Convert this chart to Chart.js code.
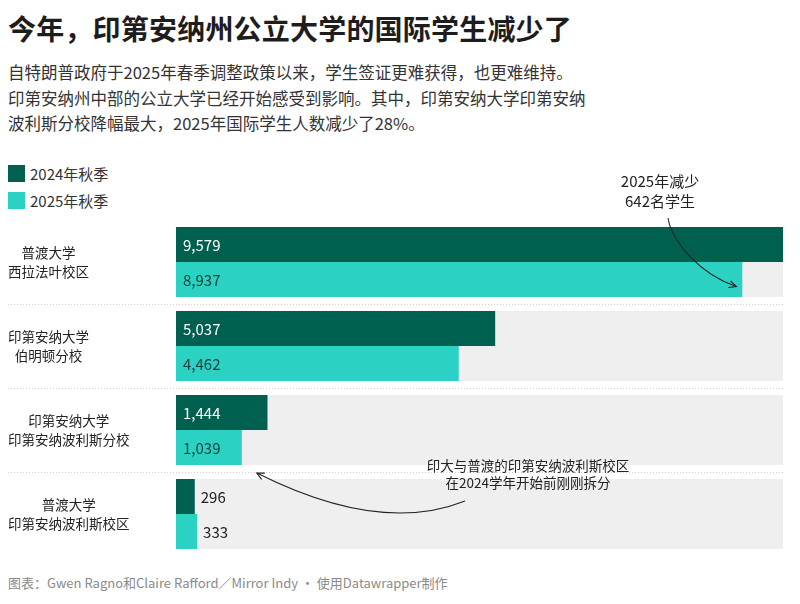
<!DOCTYPE html>
<html>
<head>
<meta charset="utf-8">
<script src="https://cdn.jsdelivr.net/npm/chart.js@4"></script>
<style>
  body { margin: 0; background: #fff; font-family: "Noto Sans CJK SC", "Noto Sans", sans-serif; color: #222; }
  #wrap { position: relative; width: 800px; height: 604px; overflow: hidden; }
  #title { position: absolute; left: 8px; top: 8px; font-size: 28px; font-weight: 700; color: #1d1d1d; letter-spacing: 0.2px; }
  #subtitle { position: absolute; left: 8px; top: 60px; font-size: 16.5px; line-height: 25.5px; color: #333; }
  .legend { position: absolute; left: 8px; font-size: 15px; color: #333; display: flex; align-items: center; }
  .legend span.sw { display: inline-block; width: 17px; height: 17px; margin-right: 5px; }
  #footer { position: absolute; left: 8px; top: 573px; font-size: 13px; color: #8a8a8a; }
  #chartBox { position: absolute; left: 0; top: 150px; width: 800px; height: 420px; }
</style>
</head>
<body>
<div id="wrap">
  <div id="title">今年，印第安纳州公立大学的国际学生减少了</div>
  <div id="subtitle">自特朗普政府于2025年春季调整政策以来，学生签证更难获得，也更难维持。<br>印第安纳州中部的公立大学已经开始感受到影响。其中，印第安纳大学印第安纳<br>波利斯分校降幅最大，2025年国际学生人数减少了28%。</div>
  <div class="legend" style="top:163px"><span class="sw" style="background:#00604f"></span>2024年秋季</div>
  <div class="legend" style="top:190px"><span class="sw" style="background:#2bd1c2"></span>2025年秋季</div>
  <div id="chartBox"><canvas id="chart" width="800" height="420"></canvas></div>
  <div id="footer">图表：Gwen Ragno和Claire Rafford／Mirror Indy · 使用Datawrapper制作</div>
</div>
<script>
// campuses (two-line labels)
const campuses = [
    ['普渡大学', '西拉法叶校区'],
    ['印第安纳大学', '伯明顿分校'],
    ['印第安纳大学', '印第安纳波利斯分校'],
    ['普渡大学', '印第安纳波利斯校区']
];
const fall2024 = [9579, 5037, 1444, 296];
const fall2025 = [8937, 4462, 1039, 333];
const seriesNames = ['2024年秋季', '2025年秋季'];

const maxValue = Math.max(...fall2024, ...fall2025);
const darkColor = '#00604f';
const tealColor = '#2bd1c2';
const font = '"Noto Sans CJK SC", "Noto Sans", sans-serif';

// campus names drawn left of the bars, centered inside their own block
const labelPlugin = {
    id: 'campusLabels',
    afterDraw(chart) {
        const ctx = chart.ctx;
        const yScale = chart.scales.y;
        ctx.save();
        ctx.font = '13.5px ' + font;
        ctx.fillStyle = '#222';
        ctx.textAlign = 'center';
        ctx.textBaseline = 'middle';
        campuses.forEach((lines, i) => {
            const y = yScale.getPixelForValue(i);
            const w = Math.max(...lines.map(l => ctx.measureText(l).width));
            const cx = 8 + w / 2;
            lines.forEach((l, j) => {
                ctx.fillText(l, cx, y + (j - (lines.length - 1) / 2) * 19);
            });
        });
        ctx.restore();
    }
};

// dotted separators between groups
const separatorPlugin = {
    id: 'separators',
    beforeDatasetsDraw(chart) {
        const ctx = chart.ctx;
        const yScale = chart.scales.y;
        ctx.save();
        ctx.strokeStyle = '#cfcfcf';
        ctx.lineWidth = 1;
        ctx.setLineDash([1, 2]);
        for (let i = 0; i < campuses.length - 1; i++) {
            const y = Math.round((yScale.getPixelForValue(i) + yScale.getPixelForValue(i + 1)) / 2) + 0.5;
            ctx.beginPath();
            ctx.moveTo(8, y);
            ctx.lineTo(chart.chartArea.right, y);
            ctx.stroke();
        }
        ctx.restore();
    }
};

// value labels inside / next to the bars
const valuePlugin = {
    id: 'values',
    afterDatasetsDraw(chart) {
        const ctx = chart.ctx;
        ctx.save();
        ctx.font = '15px ' + font;
        ctx.textBaseline = 'middle';
        ctx.textAlign = 'left';
        [0, 1].forEach(di => {
            const meta = chart.getDatasetMeta(di);
            meta.data.forEach((bar, i) => {
                const v = chart.data.datasets[di].data[i];
                const txt = v.toLocaleString('en-US');
                const len = bar.x - bar.base;
                if (len > ctx.measureText(txt).width + 14) {
                    ctx.fillStyle = di === 0 ? '#ffffff' : '#173f39';
                    ctx.fillText(txt, bar.base + 7, bar.y + 1);
                } else {
                    ctx.fillStyle = '#222';
                    ctx.fillText(txt, bar.x + 6, bar.y + 1);
                }
            });
        });
        ctx.restore();
    }
};

function arrowHead(ctx, fromX, fromY, x, y) {
    const a = Math.atan2(y - fromY, x - fromX);
    const s = 8;
    ctx.beginPath();
    ctx.moveTo(x - s * Math.cos(a - 0.45), y - s * Math.sin(a - 0.45));
    ctx.lineTo(x, y);
    ctx.lineTo(x - s * Math.cos(a + 0.45), y - s * Math.sin(a + 0.45));
    ctx.stroke();
}

// notes with curved arrows
const notePlugin = {
    id: 'notes',
    afterDraw(chart) {
        const ctx = chart.ctx;
        const x = chart.scales.x;
        const m1 = chart.getDatasetMeta(1);
        ctx.save();
        ctx.fillStyle = '#222';
        ctx.textAlign = 'center';
        ctx.textBaseline = 'middle';

        // first note: Purdue West Lafayette drop
        ctx.font = '15px ' + font;
        ctx.fillText('2025年减少', 660, 31);
        ctx.fillText('642名学生', 660, 51);
        const e1x = x.getPixelForValue(fall2025[0]) - 6;
        const e1y = m1.data[0].y + 7;
        ctx.strokeStyle = '#222';
        ctx.lineWidth = 1.1;
        ctx.beginPath();
        ctx.moveTo(668, 68);
        ctx.bezierCurveTo(672, 92, 700, 124, e1x, e1y);
        ctx.stroke();
        arrowHead(ctx, 700, 124, e1x, e1y);

        // second note: Indianapolis split
        const b2 = m1.data[2];
        ctx.font = '13.5px ' + font;
        ctx.fillText('印大与普渡的印第安纳波利斯校区', 528, 316);
        ctx.fillText('在2024学年开始前刚刚拆分', 528, 333);
        const e2x = b2.x + 15;
        const e2y = b2.y + b2.height / 2 + 8;
        ctx.beginPath();
        ctx.moveTo(465, 351);
        ctx.quadraticCurveTo(380, 385, e2x, e2y);
        ctx.stroke();
        arrowHead(ctx, 380, 385, e2x, e2y);
        ctx.restore();
    }
};

new Chart(document.getElementById('chart'), {
    type: 'bar',
    data: {
        labels: campuses,
        datasets: [
            {
                label: seriesNames[0],
                data: fall2024,
                backgroundColor: darkColor,
                categoryPercentage: 0.833,
                barPercentage: 1,
                order: 0
            },
            {
                label: seriesNames[1],
                data: fall2025,
                backgroundColor: tealColor,
                categoryPercentage: 0.833,
                barPercentage: 1,
                order: 0
            },
            {
                label: 'bg',
                data: campuses.map(() => maxValue),
                backgroundColor: '#efefef',
                grouped: false,
                categoryPercentage: 0.833,
                barPercentage: 1,
                order: 5
            }
        ]
    },
    options: {
        indexAxis: 'y',
        responsive: false,
        animation: false,
        layout: { padding: { left: 176, right: 17, top: 70, bottom: 14 } },
        scales: {
            x: { display: false, min: 0, max: maxValue },
            y: { display: false }
        },
        plugins: {
            legend: { display: false },
            tooltip: { enabled: false }
        }
    },
    plugins: [separatorPlugin, valuePlugin, labelPlugin, notePlugin]
});
</script>
</body>
</html>
